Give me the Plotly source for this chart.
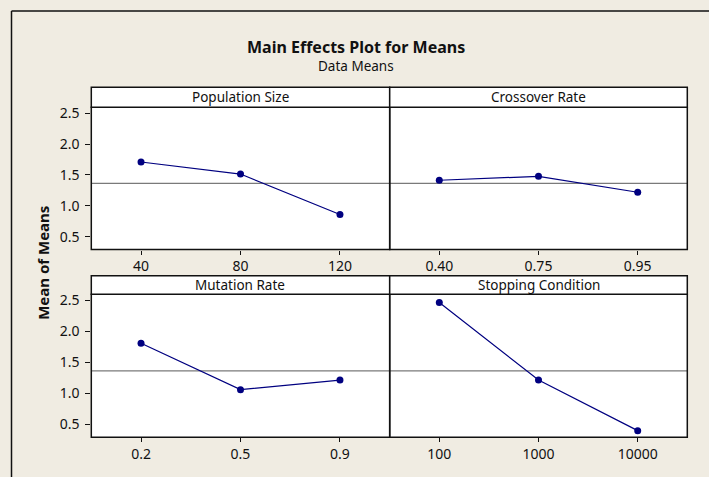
import plotly.graph_objects as go

# ---- data ----
factors = ["Population Size", "Crossover Rate", "Mutation Rate", "Stopping Condition"]
pop_levels = ["40", "80", "120"]
pop_means = [1.71, 1.515, 0.86]
cross_levels = ["0.40", "0.75", "0.95"]
cross_means = [1.415, 1.478, 1.22]
mut_levels = ["0.2", "0.5", "0.9"]
mut_means = [1.81, 1.06, 1.215]
stop_levels = ["100", "1000", "10000"]
stop_means = [2.468, 1.215, 0.398]
y_ticks = [0.5, 1.0, 1.5, 2.0, 2.5]

all_vals = pop_means + cross_means + mut_means + stop_means
grand_mean = sum(all_vals) / len(all_vals)

W, H = 709, 477
def fx(px):
    return px / W
def fy(py):
    return 1 - py / H

col_x = [(91.3, 389.7), (389.7, 687.3)]
row_plot = [(104.0, 247.7), (292.7, 437.0)]
row_strip = [(84.0, 104.0), (274.0, 292.7)]

FONT = "Noto Sans"
NAVY = "#000080"
BEIGE = "#F0ECE2"
INK = "#111111"

fig = go.Figure()

panels = [
    (pop_levels, pop_means, 0, 0),
    (cross_levels, cross_means, 0, 1),
    (mut_levels, mut_means, 1, 0),
    (stop_levels, stop_means, 1, 1),
]

shapes = []
annotations = []
layout = {}
for i, (lv, mv, r, c) in enumerate(panels):
    n = "" if i == 0 else str(i + 1)
    fig.add_trace(go.Scatter(
        x=lv, y=mv, mode="lines+markers",
        line=dict(color=NAVY, width=1.2),
        marker=dict(color=NAVY, size=7),
        xaxis="x" + n, yaxis="y" + n, showlegend=False, hoverinfo="x+y",
    ))
    layout["xaxis" + n] = dict(
        domain=[fx(col_x[c][0]), fx(col_x[c][1])],
        anchor="y" + n, type="category", range=[-0.5, 2.5],
        showline=False,
        ticks="outside", ticklen=4, tickwidth=1, tickcolor=INK,
        showgrid=False, zeroline=False,
        tickfont=dict(family=FONT, size=14, color=INK),
        ticklabelstandoff=0,
    )
    ya = dict(
        domain=[fy(row_plot[r][1]), fy(row_plot[r][0])],
        anchor="x" + n, range=[0.29, 2.6],
        showline=False,
        showgrid=False, zeroline=False,
        tickvals=y_ticks, tickformat=".1f",
        tickfont=dict(family=FONT, size=14, color=INK),
    )
    if c == 0:
        ya.update(ticks="outside", ticklen=5, tickwidth=1, tickcolor=INK,
                  ticklabelstandoff=3)
    else:
        ya.update(ticks="", showticklabels=False)
    layout["yaxis" + n] = ya
    # grand mean reference line
    shapes.append(dict(type="line", xref="x" + n + " domain", yref="y" + n,
                       x0=0, x1=1, y0=grand_mean, y1=grand_mean,
                       line=dict(color="#7a7a7a", width=1.2), layer="below"))
    # panel border
    shapes.append(dict(type="rect", xref="paper", yref="paper",
                       x0=fx(col_x[c][0]), x1=fx(col_x[c][1]),
                       y0=fy(row_plot[r][1]), y1=fy(row_plot[r][0]),
                       line=dict(color=INK, width=1.5)))
    # strip
    shapes.append(dict(type="rect", xref="paper", yref="paper",
                       x0=fx(col_x[c][0]), x1=fx(col_x[c][1]),
                       y0=fy(row_strip[r][1]), y1=fy(row_strip[r][0]),
                       fillcolor="white", line=dict(color=INK, width=1.5)))
    annotations.append(dict(
        text=factors[i], xref="paper", yref="paper",
        x=fx((col_x[c][0] + col_x[c][1]) / 2),
        y=fy((row_strip[r][0] + row_strip[r][1]) / 2),
        showarrow=False, xanchor="center", yanchor="middle",
        font=dict(family=FONT, size=13.5, color=INK),
    ))

# outer frame (left and top edges)
shapes.append(dict(type="line", xref="paper", yref="paper",
                   x0=fx(11.5), x1=fx(11.5), y0=-0.05, y1=fy(7),
                   line=dict(color=INK, width=1.5)))
shapes.append(dict(type="line", xref="paper", yref="paper",
                   x0=fx(11.5), x1=1.05, y0=fy(7), y1=fy(7),
                   line=dict(color=INK, width=1.5)))

annotations.append(dict(text="<b>Main Effects Plot for Means</b>", xref="paper", yref="paper",
                        x=fx(356), y=fy(43), showarrow=False, xanchor="center", yanchor="middle",
                        font=dict(family=FONT, size=16, color=INK)))
annotations.append(dict(text="Data Means", xref="paper", yref="paper",
                        x=fx(356), y=fy(63), showarrow=False, xanchor="center", yanchor="middle",
                        font=dict(family=FONT, size=13.5, color=INK)))
annotations.append(dict(text="<b>Mean of Means</b>", xref="paper", yref="paper",
                        x=fx(43), y=fy(261), showarrow=False, xanchor="center", yanchor="middle",
                        textangle=-90, font=dict(family=FONT, size=15, color=INK)))

fig.update_layout(
    width=W, height=H, autosize=False,
    margin=dict(l=0, r=0, t=0, b=0),
    paper_bgcolor=BEIGE, plot_bgcolor="white",
    shapes=shapes, annotations=annotations, **layout,
)

fig.write_html("out.html", config={"displayModeBar": False},
               post_script="document.body.style.margin='0px';document.body.style.overflow='hidden';")
